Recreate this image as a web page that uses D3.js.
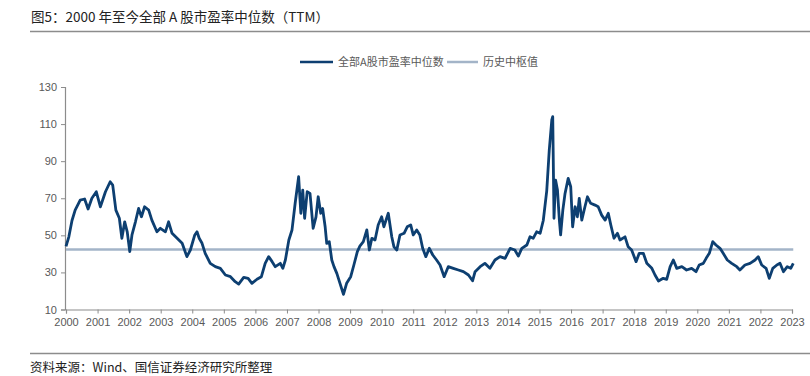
<!DOCTYPE html>
<html>
<head>
<meta charset="utf-8">
<script src="https://cdn.jsdelivr.net/npm/d3@7"></script>
<style>
  body { margin: 0; background: #fff; }
  text { font-family: "Liberation Sans", Arial, sans-serif; }
  .cjk { font-family: "Noto Sans CJK SC", sans-serif; }
</style>
</head>
<body>
<div id="content"></div>
<script>
// PE median of all A shares (TTM)
var years = [
  2000.00, 2000.09, 2000.19, 2000.29, 2000.45, 2000.59, 2000.70, 2000.82, 2000.96,
  2001.09, 2001.25, 2001.40, 2001.48, 2001.58, 2001.69, 2001.77, 2001.86, 2001.94,
  2002.02, 2002.09, 2002.20, 2002.30, 2002.39, 2002.49, 2002.62, 2002.72, 2002.88, 2002.99,
  2003.15, 2003.25, 2003.36, 2003.52, 2003.68, 2003.83, 2003.94,
  2004.08, 2004.15, 2004.22, 2004.31, 2004.41, 2004.57, 2004.73, 2004.89,
  2005.05, 2005.21, 2005.36, 2005.47, 2005.63, 2005.77, 2005.89,
  2006.05, 2006.19, 2006.31, 2006.42, 2006.53, 2006.63, 2006.79, 2006.87, 2006.95,
  2007.06, 2007.16, 2007.26, 2007.37, 2007.44, 2007.50, 2007.56, 2007.64, 2007.73, 2007.83, 2007.92, 2007.99,
  2008.07, 2008.13, 2008.21, 2008.26, 2008.34, 2008.42, 2008.49, 2008.58, 2008.68, 2008.79, 2008.89,
  2009.02, 2009.12, 2009.23, 2009.31, 2009.42, 2009.53, 2009.61, 2009.69, 2009.79, 2009.89,
  2010.00, 2010.07, 2010.21, 2010.32, 2010.39, 2010.48, 2010.58, 2010.71, 2010.81, 2010.92,
  2011.00, 2011.11, 2011.21, 2011.30, 2011.40, 2011.51, 2011.62, 2011.74, 2011.85, 2011.98,
  2012.11, 2012.27, 2012.43, 2012.59, 2012.75, 2012.88, 2012.96,
  2013.12, 2013.27, 2013.43, 2013.59, 2013.75, 2013.91,
  2014.07, 2014.22, 2014.33, 2014.44, 2014.60, 2014.70, 2014.80, 2014.91,
  2015.02, 2015.12, 2015.23, 2015.31, 2015.39, 2015.42, 2015.46, 2015.51, 2015.57, 2015.63, 2015.67, 2015.74, 2015.81, 2015.91, 2015.99,
  2016.05, 2016.13, 2016.20, 2016.26, 2016.34, 2016.44, 2016.52, 2016.62, 2016.76, 2016.86, 2016.97,
  2017.08, 2017.18, 2017.26, 2017.36, 2017.47, 2017.55, 2017.71, 2017.81, 2017.92,
  2018.06, 2018.16, 2018.29, 2018.40, 2018.56, 2018.66, 2018.77, 2018.92,
  2019.03, 2019.14, 2019.24, 2019.35, 2019.51, 2019.66, 2019.82, 2019.96,
  2020.06, 2020.19, 2020.28, 2020.38, 2020.49, 2020.59, 2020.72, 2020.82, 2020.95,
  2021.09, 2021.25, 2021.35, 2021.51, 2021.67, 2021.83, 2021.93,
  2022.04, 2022.18, 2022.28, 2022.39, 2022.52, 2022.62, 2022.73, 2022.85, 2022.96,
  2023.04
];
var pe = [
  44.0, 49.2, 58.0, 63.6, 69.0, 69.6, 64.2, 70.0, 73.5,
  65.4, 73.5, 78.9, 77.1, 63.6, 59.2, 48.4, 57.3, 51.9,
  41.2, 50.2, 57.3, 64.5, 60.0, 65.4, 63.6, 58.2, 51.9, 53.8,
  51.9, 57.3, 51.1, 48.4, 45.7, 38.5, 42.1,
  50.2, 51.9, 48.4, 45.7, 40.3, 34.9, 33.1, 32.2,
  28.6, 27.7, 25.0, 23.7, 27.3, 26.8, 24.1,
  26.3, 27.7, 34.9, 38.5, 35.8, 33.1, 34.9, 32.2, 36.7,
  47.5, 52.9, 67.3, 81.6, 61.9, 74.4, 59.2, 73.5, 72.6, 53.8, 60.0, 70.8,
  61.9, 64.5, 54.6, 45.7, 46.6, 36.7, 33.1, 29.5, 24.1, 18.2, 24.1,
  27.7, 34.0, 41.2, 44.2, 46.6, 52.9, 42.1, 48.4, 47.5, 55.6,
  60.0, 54.6, 61.9, 49.2, 43.8, 42.1, 50.2, 51.1, 54.6, 55.6,
  50.2, 52.9, 50.2, 43.0, 38.5, 43.0, 39.4, 36.7, 34.0, 27.7,
  33.1, 32.2, 31.3, 30.4, 28.6, 25.5, 30.4,
  33.1, 34.9, 32.2, 36.7, 38.5, 37.6,
  43.0, 42.1, 38.8, 43.0, 44.8, 49.2, 48.4, 51.9,
  51.1, 58.0, 74.0, 96.0, 112.2, 114.0, 59.2, 79.8, 74.4, 58.2, 50.2, 63.6, 72.6, 80.7, 76.2,
  54.6, 65.4, 60.0, 69.9, 58.2, 65.4, 70.8, 67.3, 66.3, 65.4, 60.9,
  58.2, 61.9, 55.6, 48.4, 51.1, 47.5, 49.2, 43.8, 42.1,
  35.8, 40.3, 40.3, 34.9, 32.2, 28.6, 25.4, 26.8,
  26.3, 33.1, 36.7, 32.2, 33.1, 31.3, 32.2, 30.4,
  34.0, 34.9, 37.6, 40.3, 46.6, 44.8, 43.0, 40.3, 36.7,
  34.9, 33.1, 31.3, 34.0, 34.9, 36.7, 38.5,
  34.0, 32.2, 26.8, 32.2, 34.0, 34.9, 30.4, 33.1, 32.2,
  34.9
];
var medianPE = 42.4;
var yTicks = [10, 30, 50, 70, 90, 110, 130];
var xTicks = d3.range(2000, 2024);
var legendLabels = ["全部A股市盈率中位数", "历史中枢值"];
var title = "图5：2000 年至今全部 A 股市盈率中位数（TTM）";
var source = "资料来源：Wind、国信证券经济研究所整理";

var w = 810,
    h = 376;

var darkBlue = "#0d3f71",
    paleBlue = "#a3b4c8",
    axisGray = "#8c8c8c",
    labelGray = "#595959";

var svg = d3.select("#content")
    .append("svg")
    .attr("width", w)
    .attr("height", h);

var x = d3.scaleLinear().domain([2000, 2023]).range([66, 792]);
var y = d3.scaleLinear().domain([10, 130]).range([309.5, 87]);

// header + footer rules
svg.append("text")
    .attr("class", "cjk")
    .attr("x", 31)
    .attr("y", 22)
    .attr("font-size", 13.5)
    .attr("fill", "#222")
    .text(title);
svg.append("line")
    .attr("x1", 30).attr("x2", 810)
    .attr("y1", 31.5).attr("y2", 31.5)
    .attr("stroke", axisGray).attr("stroke-width", 1.3);
svg.append("line")
    .attr("x1", 30).attr("x2", 810)
    .attr("y1", 353.5).attr("y2", 353.5)
    .attr("stroke", axisGray).attr("stroke-width", 1.3);
svg.append("text")
    .attr("class", "cjk")
    .attr("x", 30)
    .attr("y", 372)
    .attr("font-size", 12.5)
    .attr("fill", "#222")
    .text(source);

// axes
var yAxis = svg.append("g")
    .attr("transform", "translate(65,0)")
    .call(d3.axisLeft(y).tickValues(yTicks).tickSize(4).tickPadding(4).tickFormat(d3.format("d")));
var xAxis = svg.append("g")
    .attr("transform", "translate(0,309.5)")
    .call(d3.axisBottom(x).tickValues(xTicks).tickSize(4).tickPadding(5).tickFormat(d3.format("d")));

[yAxis, xAxis].forEach(function(g) {
    g.select(".domain").attr("stroke", axisGray).attr("stroke-width", 1.2);
    g.selectAll(".tick line").attr("stroke", axisGray);
    g.selectAll(".tick text")
        .attr("fill", labelGray)
        .attr("font-size", 11)
        .attr("font-family", "Liberation Sans, Arial, sans-serif");
});

// median line
svg.append("line")
    .attr("x1", x(2000)).attr("x2", x(2023.04))
    .attr("y1", y(medianPE)).attr("y2", y(medianPE))
    .attr("stroke", paleBlue)
    .attr("stroke-width", 2.5);

// PE series
var line = d3.line()
    .x(function(d, i) { return x(years[i]); })
    .y(function(d) { return y(d); });

svg.append("path")
    .datum(pe)
    .attr("d", line)
    .attr("fill", "none")
    .attr("stroke", darkBlue)
    .attr("stroke-width", 2.8)
    .attr("stroke-linejoin", "round");

// legend
var legend = svg.append("g").attr("transform", "translate(0,62)");
var legendItems = [
    {x: 300, len: 33, color: darkBlue, label: legendLabels[0]},
    {x: 447, len: 31, color: paleBlue, label: legendLabels[1]}
];
legendItems.forEach(function(d) {
    legend.append("line")
        .attr("x1", d.x).attr("x2", d.x + d.len)
        .attr("y1", 0).attr("y2", 0)
        .attr("stroke", d.color)
        .attr("stroke-width", 2.5);
    legend.append("text")
        .attr("class", "cjk")
        .attr("x", d.x + d.len + 5)
        .attr("y", 4)
        .attr("font-size", 11)
        .attr("fill", labelGray)
        .text(d.label);
});
</script>
</body>
</html>
